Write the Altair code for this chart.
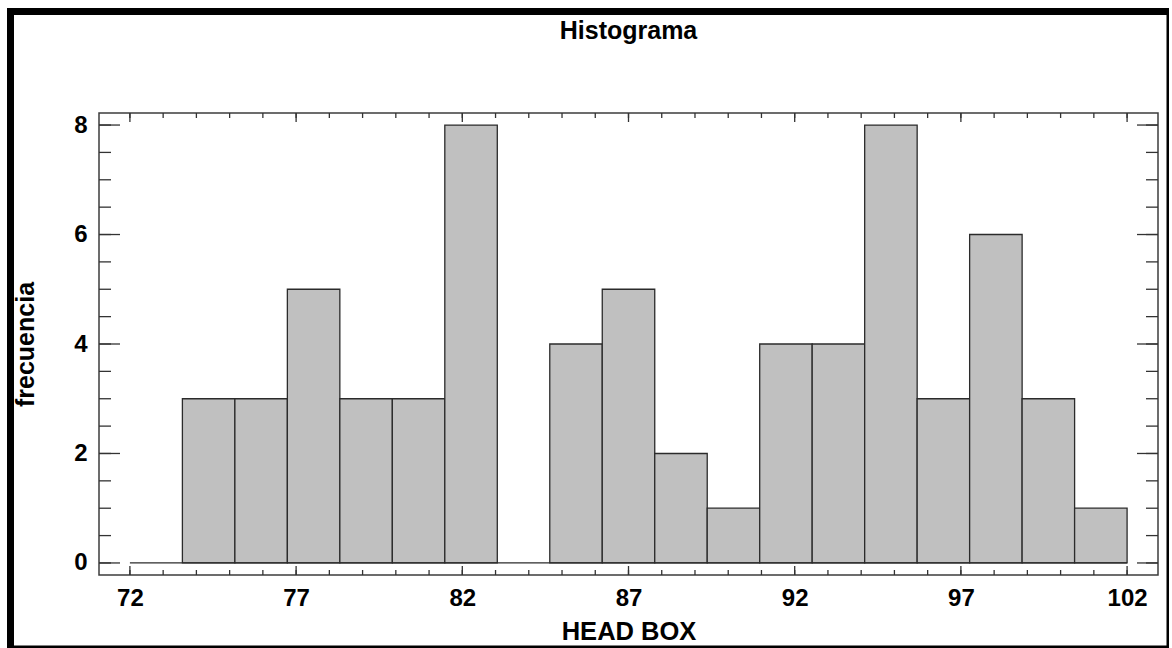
import altair as alt
import pandas as pd

# Histogram of HEAD BOX readings: 19 classes between 72 and 102
lower_limit = 72.0
upper_limit = 102.0
counts = [0, 3, 3, 5, 3, 3, 8, 0, 4, 5, 2, 1, 4, 4, 8, 3, 6, 3, 1]

x_labels = [72, 77, 82, 87, 92, 97, 102]
x_minor = list(range(72, 103))
y_labels = [0, 2, 4, 6, 8]
y_minor = [i * 0.5 for i in range(17)]

x_domain = [71.07, 102.93]
y_domain = [-0.22, 8.22]

W, H = 1059, 462
FONT = "Liberation Sans"
EDGE = "#2b2b2b"

width_cls = (upper_limit - lower_limit) / len(counts)
bins = pd.DataFrame({
    "start": [lower_limit + i * width_cls for i in range(len(counts))],
    "end": [lower_limit + (i + 1) * width_cls for i in range(len(counts))],
    "frecuencia": counts,
})

xs = alt.Scale(domain=x_domain, nice=False, zero=False)
ys = alt.Scale(domain=y_domain, nice=False, zero=False)

x_axis = alt.Axis(values=x_labels, ticks=False, tickSize=0, domain=False, grid=False,
                  labelFont=FONT, labelFontWeight="bold", labelFontSize=24, labelColor="black",
                  labelBaseline="alphabetic", labelPadding=30,
                  title="HEAD BOX", titleFont=FONT, titleFontWeight="bold", titleFontSize=25.5,
                  titleColor="black", titleBaseline="alphabetic", titleY=64, titleX=W / 2,
                  titleAlign="center")
y_axis = alt.Axis(values=y_labels, ticks=False, tickSize=0, domain=False, grid=False,
                  labelFont=FONT, labelFontWeight="bold", labelFontSize=24, labelColor="black",
                  labelPadding=12,
                  title="frecuencia", titleFont=FONT, titleFontWeight="bold", titleFontSize=25,
                  titleColor="black", titleBaseline="alphabetic", titleAngle=270,
                  titleX=-66, titleY=H / 2, titleAlign="center")

bars = alt.Chart(bins).transform_filter("datum.frecuencia > 0").mark_rect(
    fill="#c0c0c0", stroke=EDGE, strokeWidth=1.3
).encode(
    x=alt.X("start:Q", scale=xs, axis=x_axis),
    x2="end:Q",
    y=alt.Y("frecuencia:Q", scale=ys, axis=y_axis),
    y2=alt.datum(0),
)

baseline = alt.Chart(alt.Data(values=[{}])).mark_rule(color=EDGE, strokeWidth=1.3).encode(
    x=alt.datum(lower_limit, scale=xs, axis=x_axis), x2=alt.datum(upper_limit),
    y=alt.datum(0, scale=ys, axis=y_axis),
)

def xticks(vals, length):
    df = pd.DataFrame({"v": vals})
    bottom = alt.Chart(df).mark_rule(color="#333333", strokeWidth=1.3).encode(
        x=alt.X("v:Q", scale=xs, axis=x_axis), y=alt.value(H), y2=alt.value(H - length))
    top = alt.Chart(df).mark_rule(color="#333333", strokeWidth=1.3).encode(
        x=alt.X("v:Q", scale=xs, axis=x_axis), y=alt.value(0), y2=alt.value(length))
    return [bottom, top]

def yticks(vals, length):
    df = pd.DataFrame({"v": vals})
    left = alt.Chart(df).mark_rule(color="#333333", strokeWidth=1.3).encode(
        y=alt.Y("v:Q", scale=ys, axis=y_axis), x=alt.value(0), x2=alt.value(length))
    right = alt.Chart(df).mark_rule(color="#333333", strokeWidth=1.3).encode(
        y=alt.Y("v:Q", scale=ys, axis=y_axis), x=alt.value(W), x2=alt.value(W - length))
    return [left, right]

tick_layers = (xticks(x_minor, 5) + xticks(x_labels, 9)
               + yticks(y_minor, 12) + yticks(y_labels, 21))

one = alt.Data(values=[{}])

title = alt.Chart(one).mark_text(
    text="Histograma", font=FONT, fontWeight="bold", fontSize=25, color="black",
    align="center", baseline="alphabetic"
).encode(x=alt.value(W / 2), y=alt.value(-74))

# outer black border of the figure
def band(x0, x1, y0, y1):
    return alt.Chart(one).mark_rect(color="black").encode(
        x=alt.value(x0), x2=alt.value(x1), y=alt.value(y0), y2=alt.value(y1))

border = [
    band(-92, 1070, -105, -98),
    band(-92, -85, -105, 535),
    band(1067.5, 1070, -105, 535),
    band(-92, 1070, 532.5, 535),
]

chart = alt.layer(bars, baseline, *tick_layers, title, *border).properties(
    width=W, height=H,
    autosize=alt.AutoSizeParams(type="none"),
    padding={"left": 99, "top": 113, "right": 14, "bottom": 73},
    background="white",
).configure_view(stroke="#3c3c3c", strokeWidth=1.5)

chart.save("out.html", embed_options={"renderer": "svg", "actions": False})
